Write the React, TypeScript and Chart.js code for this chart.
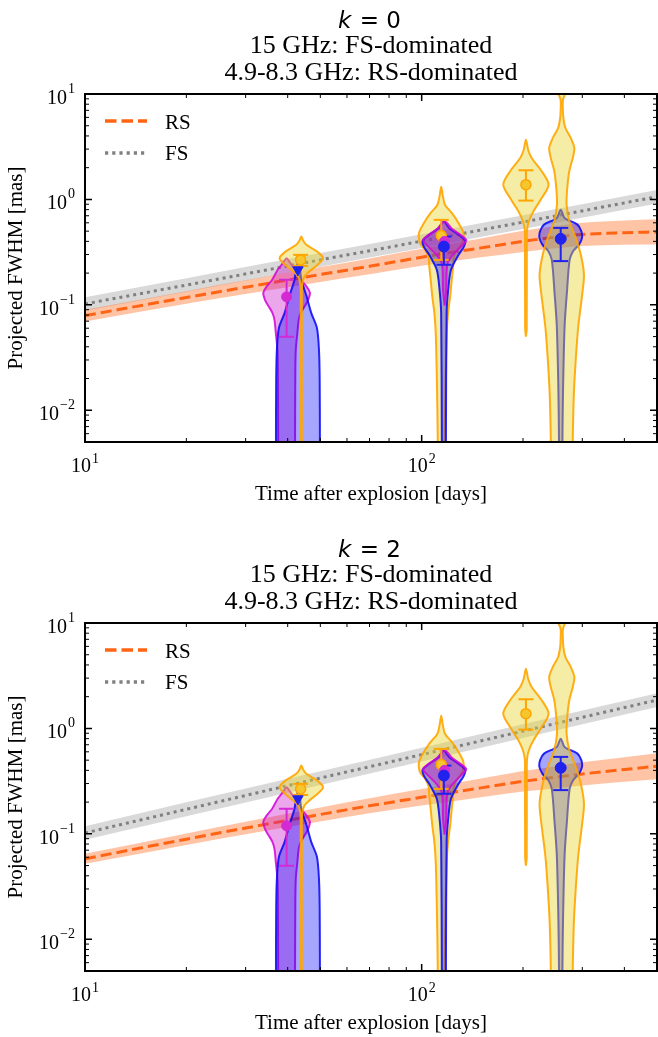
import React, { useEffect, useRef } from 'react';
import { Chart, registerables } from 'chart.js';

Chart.register(...registerables);

// ---------------- text ----------------
const panelK = ['0', '2'];
const subtitle1 = '15 GHz: FS-dominated';
const subtitle2 = '4.9-8.3 GHz: RS-dominated';
const xAxisLabel = 'Time after explosion [days]';
const yAxisLabel = 'Projected FWHM [mas]';
const legendLabels = ['RS', 'FS'];

// ---------------- axes ----------------
const xMin = 10;
const xMax = 500;
const yMin = 0.005;
const yMax = 10;
const xMajorTicks = [10, 100];
const xMajorExp = ['1', '2'];
const xMinorTicks = [20, 30, 40, 50, 60, 70, 80, 90, 200, 300, 400];
const yMajorTicks = [0.01, 0.1, 1, 10];
const yMajorExp = ['\u22122', '\u22121', '0', '1'];
const yMinorTicks = [
  0.006, 0.007, 0.008, 0.009,
  0.02, 0.03, 0.04, 0.05, 0.06, 0.07, 0.08, 0.09,
  0.2, 0.3, 0.4, 0.5, 0.6, 0.7, 0.8, 0.9,
  2, 3, 4, 5, 6, 7, 8, 9,
];

// ---------------- model curves ----------------
const rsTimes = [10, 20, 30, 50, 70, 100, 150, 200, 250, 300, 400, 500];
const rsK0 = [0.079, 0.1175, 0.147, 0.194, 0.232, 0.283, 0.347, 0.4, 0.439, 0.466, 0.484, 0.492];
const rsK0Upper = [0.0897, 0.1349, 0.1707, 0.228, 0.2758, 0.3402, 0.4268, 0.5036, 0.5593, 0.6002, 0.6307, 0.6485];
const rsK0Lower = [0.0696, 0.1024, 0.1266, 0.1651, 0.1951, 0.2354, 0.2821, 0.3177, 0.3446, 0.3618, 0.3715, 0.3733];
const rsK2 = [0.058, 0.089, 0.1136, 0.1527, 0.1845, 0.222, 0.273, 0.315, 0.345, 0.37, 0.408, 0.438];
const rsK2Upper = [0.0648, 0.101, 0.1304, 0.1782, 0.2177, 0.2657, 0.3344, 0.3938, 0.4385, 0.4766, 0.5341, 0.5812];
const rsK2Lower = [0.0519, 0.0784, 0.099, 0.1308, 0.1564, 0.1855, 0.2229, 0.252, 0.2714, 0.2873, 0.3117, 0.3301];

const fsTimes = [10, 20, 50, 100, 200, 500];
const fsK0 = [0.102, 0.154, 0.267, 0.402, 0.61, 1.06];
const fsK0Upper = [0.118, 0.179, 0.31, 0.467, 0.708, 1.23];
const fsK0Lower = [0.088, 0.133, 0.23, 0.346, 0.525, 0.913];
const fsK2 = [0.102, 0.171, 0.338, 0.564, 0.943, 1.86];
const fsK2Upper = [0.118, 0.199, 0.392, 0.655, 1.095, 2.16];
const fsK2Lower = [0.088, 0.147, 0.291, 0.486, 0.812, 1.6];

// ---------------- violins (size in mas, relative density) ----------------
const vMag1T = 39.7;
const vMag1Y = [0.277, 0.256, 0.239, 0.215, 0.173, 0.148, 0.13, 0.111, 0.098, 0.084, 0.072, 0.054, 0.037, 0.0195, 0.005, 0.003];
const vMag1W = [0, 0.13, 0.22, 0.39, 0.63, 0.88, 1.02, 0.94, 0.8, 0.62, 0.53, 0.47, 0.4, 0.38, 0.37, 0.37];

const vBlue1T = 42.9;
const vBlue1Y = [0.25, 0.215, 0.173, 0.12, 0.084, 0.0605, 0.037, 0.0195, 0.005, 0.003];
const vBlue1W = [0, 0.09, 0.15, 0.38, 0.58, 0.83, 0.92, 0.95, 0.96, 0.96];

const vOr1T = 43.9;
const vOr1Y = [0.444, 0.404, 0.371, 0.32, 0.277, 0.239, 0.207, 0.185, 0.155, 0.12, 0.005, 0.003];
const vOr1W = [0, 0.09, 0.22, 0.69, 0.95, 0.7, 0.35, 0.13, 0.04, 0.025, 0.025, 0.025];

const vOr2T = 114.3;
const vOr2Y = [1.32, 1.08, 0.887, 0.74, 0.594, 0.479, 0.387, 0.332, 0.287, 0.229, 0.173, 0.12, 0.084, 0.054, 0.0195, 0.005, 0.003];
const vOr2W = [0, 0.07, 0.17, 0.47, 0.76, 0.97, 0.93, 0.7, 0.56, 0.52, 0.46, 0.39, 0.3, 0.24, 0.19, 0.15, 0.15];

const vBlue2T = 116.4;
const vBlue2Y = [0.616, 0.537, 0.461, 0.404, 0.355, 0.291, 0.215, 0.139, 0.084, 0.005, 0.003];
const vBlue2W = [0, 0.22, 0.65, 0.93, 0.87, 0.61, 0.31, 0.19, 0.12, 0.09, 0.09];

const vMag2T = 117;
const vMag2Y = [0.616, 0.52, 0.413, 0.355, 0.296, 0.256, 0.215, 0.139, 0.098];
const vMag2W = [0, 0.35, 0.94, 0.7, 0.35, 0.15, 0.09, 0.07, 0];

const vOr3T = 204;
const vOr3Y = [3.69, 2.94, 2.47, 1.85, 1.38, 1.03, 0.773, 0.621, 0.514, 0.4, 0.06, 0.0498];
const vOr3W = [0, 0.1, 0.25, 0.69, 0.99, 0.69, 0.33, 0.13, 0.05, 0.04, 0.035, 0];

const vBlue4T = 258.8;
const vBlue4Y = [0.8, 0.668, 0.577, 0.5, 0.432, 0.373, 0.323, 0.267, 0.13, 0.0623, 0.0147, 0.005, 0.003];
const vBlue4W = [0, 0.17, 0.73, 0.9, 0.93, 0.8, 0.54, 0.39, 0.27, 0.17, 0.1, 0.075, 0.075];

const vOr4T = 260.7;
const vOr4Y = [11.4, 10, 8.77, 7.05, 5.92, 4.76, 3.83, 3.08, 2.47, 1.86, 1.28, 0.893, 0.625, 0.432, 0.3, 0.194, 0.13, 0.0623, 0.0301, 0.0147, 0.00702, 0.005, 0.003];
const vOr4W = [0.25, 0.15, 0.05, 0.05, 0.07, 0.16, 0.39, 0.55, 0.48, 0.33, 0.24, 0.21, 0.33, 0.61, 0.83, 0.97, 0.9, 0.72, 0.61, 0.53, 0.49, 0.48, 0.48];

// ---------------- measurements ----------------
const orangeT = [43.7, 114.3, 204];
const orangeVal = [0.267, 0.454, 1.38];
const orangeLo = [0.234, 0.267, 0.975];
const orangeHi = [0.298, 0.64, 1.89];

const blueT = [116.4, 258.8];
const blueVal = [0.357, 0.423];
const blueLo = [0.24, 0.26];
const blueHi = [0.444, 0.537];

const blueLimT = [42.9];
const blueLimVal = [0.215];

const magT = [39.7, 117];
const magVal = [0.119, 0.4];
const magErrT = [39.7];
const magLo = [0.0498];
const magHi = [0.173];

// ---------------- styles ----------------
const SERIF = '"Liberation Serif", "Times New Roman", serif';
const SANS = '"DejaVu Sans", sans-serif';
const VIOLIN_HALF_DEX = 0.068;
const RS_COLOR = '#ff6414';
const FS_COLOR = '#808080';
const RS_BAND = 'rgba(255,100,20,0.38)';
const FS_BAND = 'rgba(128,128,128,0.3)';
const COLORS: Record<string, { edge: string; fill: string; mark: string; err: string }> = {
  orange: { edge: 'rgba(255,165,0,0.9)', fill: 'rgba(232,212,40,0.42)', mark: '#f5c62e', err: '#ffa500' },
  blue: { edge: 'rgba(10,10,245,0.88)', fill: 'rgba(0,0,255,0.35)', mark: '#2222ee', err: '#2222ee' },
  mag: { edge: 'rgba(210,10,215,0.88)', fill: 'rgba(200,0,200,0.35)', mark: '#d42ad4', err: '#d42ad4' },
};

const violinList = [
  { t: vOr2T, y: vOr2Y, w: vOr2W, c: 'orange' },
  { t: vMag1T, y: vMag1Y, w: vMag1W, c: 'mag' },
  { t: vBlue1T, y: vBlue1Y, w: vBlue1W, c: 'blue' },
  { t: vOr1T, y: vOr1Y, w: vOr1W, c: 'orange' },
  { t: vBlue2T, y: vBlue2Y, w: vBlue2W, c: 'blue' },
  { t: vMag2T, y: vMag2Y, w: vMag2W, c: 'mag' },
  { t: vBlue4T, y: vBlue4Y, w: vBlue4W, c: 'blue' },
  { t: vOr3T, y: vOr3Y, w: vOr3W, c: 'orange' },
  { t: vOr4T, y: vOr4Y, w: vOr4W, c: 'orange' },
];

function violinPoints(t: number, ys: number[], ws: number[]) {
  const pts: { x: number; y: number }[] = [];
  const n = ys.length;
  for (let i = n - 1; i >= 0; i--) pts.push({ x: t * Math.pow(10, -ws[i] * VIOLIN_HALF_DEX), y: ys[i] });
  for (let i = 0; i < n; i++) {
    if (i === 0 && ws[0] === 0) continue;
    pts.push({ x: t * Math.pow(10, ws[i] * VIOLIN_HALF_DEX), y: ys[i] });
  }
  return pts;
}

const zip = (xs: number[], ys: number[]) => xs.map((x, i) => ({ x, y: ys[i] }));

function buildDatasets(panel: number) {
  const rs = panel === 0 ? rsK0 : rsK2;
  const rsU = panel === 0 ? rsK0Upper : rsK2Upper;
  const rsL = panel === 0 ? rsK0Lower : rsK2Lower;
  const fs = panel === 0 ? fsK0 : fsK2;
  const fsU = panel === 0 ? fsK0Upper : fsK2Upper;
  const fsL = panel === 0 ? fsK0Lower : fsK2Lower;
  const ds: any[] = [];
  const bandBase = { borderWidth: 0, pointRadius: 0, cubicInterpolationMode: 'monotone' };
  ds.push({ ...bandBase, data: zip(fsTimes, fsU), fill: '+1', backgroundColor: FS_BAND });
  ds.push({ ...bandBase, data: zip(fsTimes, fsL), fill: false });
  ds.push({ ...bandBase, data: zip(rsTimes, rsU), fill: '+1', backgroundColor: RS_BAND });
  ds.push({ ...bandBase, data: zip(rsTimes, rsL), fill: false });
  ds.push({
    data: zip(fsTimes, fs), borderColor: FS_COLOR, borderWidth: 3, borderDash: [3, 4],
    pointRadius: 0, fill: false, cubicInterpolationMode: 'monotone',
  });
  ds.push({
    data: zip(rsTimes, rs), borderColor: RS_COLOR, borderWidth: 3, borderDash: [11, 5],
    pointRadius: 0, fill: false, cubicInterpolationMode: 'monotone',
  });
  for (const v of violinList) {
    const col = COLORS[v.c];
    ds.push({
      data: violinPoints(v.t, v.y, v.w),
      borderColor: col.edge,
      backgroundColor: col.fill,
      borderWidth: 2,
      pointRadius: 0,
      fill: 'shape',
      tension: 0.3,
    });
  }
  const errBar = (t: number, lo: number, hi: number, color: string) => ({
    data: [{ x: t, y: lo }, { x: t, y: hi }],
    borderColor: color,
    borderWidth: 2,
    pointStyle: 'line',
    pointRadius: 7.5,
    pointBorderWidth: 2,
    pointBorderColor: color,
    fill: false,
  });
  orangeT.forEach((t, i) => ds.push(errBar(t, orangeLo[i], orangeHi[i], COLORS.orange.err)));
  blueT.forEach((t, i) => ds.push(errBar(t, blueLo[i], blueHi[i], COLORS.blue.err)));
  magErrT.forEach((t, i) => ds.push(errBar(t, magLo[i], magHi[i], COLORS.mag.err)));
  ds.push({
    data: zip(orangeT, orangeVal), showLine: false, pointRadius: 5,
    pointBackgroundColor: COLORS.orange.mark, pointBorderColor: COLORS.orange.err, pointBorderWidth: 1.5,
  });
  ds.push({
    data: zip(magT, magVal), showLine: false, pointRadius: 5,
    pointBackgroundColor: COLORS.mag.mark, pointBorderColor: COLORS.mag.mark, pointBorderWidth: 1,
  });
  ds.push({
    data: zip(blueT, blueVal), showLine: false, pointRadius: 5.5,
    pointBackgroundColor: COLORS.blue.mark, pointBorderColor: COLORS.blue.mark, pointBorderWidth: 1,
  });
  ds.push({
    data: zip(blueLimT, blueLimVal), showLine: false, pointRadius: 6, pointStyle: 'triangle', pointRotation: 180,
    pointBackgroundColor: COLORS.blue.mark, pointBorderColor: COLORS.blue.mark, pointBorderWidth: 1,
  });
  const n = ds.length;
  ds.forEach((d, i) => { d.order = n - i; });
  return ds;
}

function decorPlugin(panel: number) {
  return {
    id: 'decor' + panel,
    afterDatasetsDraw(chart: any) {
      const { ctx, chartArea: a } = chart;
      const xs = chart.scales.x;
      const ys = chart.scales.y;
      ctx.save();
      ctx.strokeStyle = '#000';
      ctx.fillStyle = '#000';
      ctx.setLineDash([]);
      const xTicks = (vals: number[], len: number, lw: number) => {
        ctx.lineWidth = lw;
        ctx.beginPath();
        for (const v of vals) {
          const px = xs.getPixelForValue(v);
          ctx.moveTo(px, a.bottom); ctx.lineTo(px, a.bottom - len);
          ctx.moveTo(px, a.top); ctx.lineTo(px, a.top + len);
        }
        ctx.stroke();
      };
      const yTicks = (vals: number[], len: number, lw: number) => {
        ctx.lineWidth = lw;
        ctx.beginPath();
        for (const v of vals) {
          const py = ys.getPixelForValue(v);
          ctx.moveTo(a.left, py); ctx.lineTo(a.left + len, py);
          ctx.moveTo(a.right, py); ctx.lineTo(a.right - len, py);
        }
        ctx.stroke();
      };
      xTicks(xMinorTicks, 4, 1);
      xTicks(xMajorTicks, 7, 1.5);
      yTicks(yMinorTicks, 4, 1);
      yTicks(yMajorTicks, 7, 1.5);
      ctx.lineWidth = 2;
      ctx.strokeRect(a.left, a.top, a.right - a.left, a.bottom - a.top);

      // tick labels
      const baseFont = '20px ' + SERIF;
      const expFont = '14px ' + SERIF;
      ctx.textAlign = 'left';
      ctx.textBaseline = 'alphabetic';
      xMajorTicks.forEach((v, i) => {
        const px = xs.getPixelForValue(v);
        ctx.font = baseFont;
        const wb = ctx.measureText('10').width;
        ctx.font = expFont;
        const we = ctx.measureText(xMajorExp[i]).width;
        const x0 = px - (wb + we + 1) / 2;
        ctx.font = baseFont;
        ctx.fillText('10', x0, a.bottom + 30);
        ctx.font = expFont;
        ctx.fillText(xMajorExp[i], x0 + wb + 1, a.bottom + 21);
      });
      yMajorTicks.forEach((v, i) => {
        const py = ys.getPixelForValue(v);
        ctx.font = expFont;
        const we = ctx.measureText(yMajorExp[i]).width;
        ctx.font = baseFont;
        const wb = ctx.measureText('10').width;
        const right = a.left - 10;
        ctx.fillText('10', right - we - 1 - wb, py + 10);
        ctx.font = expFont;
        ctx.fillText(yMajorExp[i], right - we, py - 1);
      });

      // axis labels
      ctx.font = '21px ' + SERIF;
      ctx.textAlign = 'center';
      ctx.fillText(xAxisLabel, (a.left + a.right) / 2, a.bottom + 58);
      ctx.save();
      ctx.translate(22, (a.top + a.bottom) / 2);
      ctx.rotate(-Math.PI / 2);
      ctx.fillText(yAxisLabel, 0, 0);
      ctx.restore();

      // titles
      const cx = (a.left + a.right) / 2;
      ctx.textAlign = 'left';
      ctx.font = 'italic 23px ' + SANS;
      const wk = ctx.measureText('k').width;
      ctx.font = '23px ' + SANS;
      const rest = ' = ' + panelK[panel];
      const wr = ctx.measureText(rest).width;
      const kx = cx - (wk + wr) / 2 - 2;
      ctx.font = 'italic 23px ' + SANS;
      ctx.fillText('k', kx, 28);
      ctx.font = '23px ' + SANS;
      ctx.fillText(rest, kx + wk + 1, 28);
      ctx.textAlign = 'center';
      ctx.font = '26px ' + SERIF;
      ctx.fillText(subtitle1, cx, 53);
      ctx.fillText(subtitle2, cx, 79.5);

      // legend
      ctx.lineWidth = 3.5;
      ctx.strokeStyle = RS_COLOR;
      ctx.setLineDash([11.5, 5]);
      ctx.beginPath(); ctx.moveTo(a.left + 20, a.top + 27); ctx.lineTo(a.left + 62, a.top + 27); ctx.stroke();
      ctx.strokeStyle = FS_COLOR;
      ctx.setLineDash([3.2, 4]);
      ctx.beginPath(); ctx.moveTo(a.left + 20, a.top + 59); ctx.lineTo(a.left + 62, a.top + 59); ctx.stroke();
      ctx.setLineDash([]);
      ctx.font = '21px ' + SERIF;
      ctx.textAlign = 'left';
      ctx.fillStyle = '#000';
      ctx.fillText(legendLabels[0], a.left + 80, a.top + 35);
      ctx.fillText(legendLabels[1], a.left + 80, a.top + 66);
      ctx.restore();
    },
  };
}

function Panel({ panel, top, height }: { panel: number; top: number; height: number }) {
  const ref = useRef<HTMLCanvasElement>(null);
  useEffect(() => {
    const chart = new Chart(ref.current as HTMLCanvasElement, {
      type: 'line',
      data: { datasets: buildDatasets(panel) },
      options: {
        animation: false,
        responsive: false,
        maintainAspectRatio: false,
        devicePixelRatio: 1,
        events: [],
        layout: { autoPadding: false, padding: { left: 85, right: 1, top: 94, bottom: height - 442 } },
        plugins: { legend: { display: false }, tooltip: { enabled: false }, title: { display: false } },
        scales: {
          x: { type: 'logarithmic', min: xMin, max: xMax, display: false, bounds: 'data' },
          y: { type: 'logarithmic', min: yMin, max: yMax, display: false, bounds: 'data' },
        },
      } as any,
      plugins: [decorPlugin(panel)],
    });
    return () => chart.destroy();
  }, [panel, height]);
  return (
    <canvas
      ref={ref}
      width={658}
      height={height}
      style={{ position: 'absolute', left: 0, top, width: 658, height }}
    />
  );
}

export default function App() {
  return (
    <div style={{ position: 'absolute', left: 0, top: 0, width: 658, height: 1037, background: '#fff', overflow: 'hidden' }}>
      <Panel panel={0} top={0} height={529} />
      <Panel panel={1} top={529} height={508} />
    </div>
  );
}
